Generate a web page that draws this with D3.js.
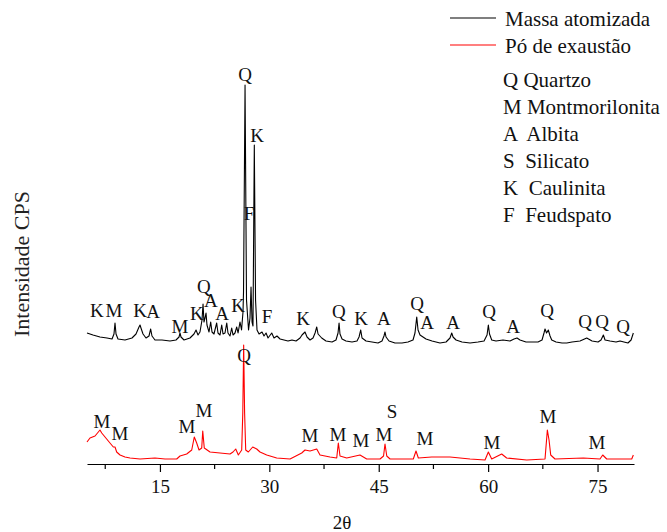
<!DOCTYPE html>
<html>
<head>
<meta charset="utf-8">
<script src="https://cdn.jsdelivr.net/npm/d3@7"></script>
</head>
<body style="margin:0;background:#fff">
<div class="container"></div>
<script>
// 2-theta positions (deg) and intensity (counts)
var blackTheta = [5.00, 5.82, 6.78, 7.74, 8.43, 8.70, 8.84, 8.98, 9.25, 10.21, 11.17, 11.72, 12.13, 12.27, 12.40, 12.68,
  13.09, 13.50, 13.73, 13.91, 14.32, 15.28, 16.38, 17.20, 17.62, 17.75, 17.89, 18.30, 19.12, 19.67, 19.95, 20.22,
  20.49, 20.77, 20.91, 21.04, 21.18, 21.32, 21.45, 21.73, 21.96, 22.14, 22.41, 22.78, 22.96, 23.24, 23.47, 23.65,
  23.92, 24.16, 24.33, 24.61, 24.84, 25.02, 25.29, 25.53, 25.71, 25.98, 26.19, 26.39, 26.46, 26.67, 26.87, 27.15,
  27.35, 27.49, 27.63, 27.76, 27.94, 28.11, 28.31, 28.59, 29.00, 29.27, 29.55, 29.82, 30.33, 30.64, 31.05, 31.47,
  32.01, 32.56, 33.11, 33.66, 34.21, 34.48, 34.89, 35.17, 35.58, 35.99, 36.27, 36.50, 36.68, 37.18, 37.77, 38.60,
  39.14, 39.42, 39.56, 39.69, 39.97, 40.51, 41.34, 42.02, 42.30, 42.53, 42.71, 43.26, 44.08, 44.90, 45.45, 45.72,
  45.86, 46.00, 46.41, 47.23, 48.19, 49.01, 49.70, 49.97, 50.21, 50.39, 50.66, 51.07, 51.48, 52.31, 53.40, 54.23,
  54.77, 55.01, 55.19, 55.60, 56.42, 57.52, 58.61, 59.44, 59.85, 60.03, 60.19, 60.49, 61.08, 62.04, 63.00, 63.55,
  63.96, 64.37, 65.19, 66.02, 66.84, 67.39, 67.66, 67.80, 68.01, 68.25, 68.49, 68.72, 69.31, 70.13, 70.78, 71.50,
  72.60, 73.52, 74.25, 75.07, 75.48, 75.80, 76.03, 76.71, 77.54, 78.09, 78.62, 79.17, 79.60, 79.91]
var blackCounts = [100, 80, 60, 50, 40, 90, 200, 90, 40, 30, 50, 90, 160, 180, 150, 90,
  50, 70, 140, 70, 30, 30, 20, 30, 60, 100, 60, 30, 50, 90, 130, 80,
  110, 230, 390, 210, 250, 300, 180, 110, 210, 110, 90, 200, 100, 80, 180, 90,
  100, 200, 100, 70, 150, 80, 100, 160, 100, 210, 130, 310, 510, 2580, 430, 130,
  250, 560, 210, 170, 1980, 430, 130, 90, 110, 70, 100, 50, 100, 50, 70, 40,
  30, 20, 30, 20, 50, 80, 110, 60, 30, 50, 100, 160, 90, 50, 20, 10,
  30, 100, 200, 90, 40, 20, 10, 20, 60, 130, 50, 20, 10, 0, 20, 70,
  110, 60, 20, 0, 0, 10, 30, 100, 260, 130, 80, 60, 40, 20, 0, 10,
  50, 100, 60, 30, 10, 0, 10, 20, 80, 180, 90, 30, 20, 30, 20, 40,
  50, 30, 10, 10, 10, 30, 100, 140, 100, 130, 70, 30, 10, 0, 0, 10,
  20, 50, 20, 10, 30, 80, 30, 20, 10, 20, 10, 0, 30, 100]

var redTheta = [5.00, 5.41, 6.10, 6.78, 7.02, 7.47, 8.15, 8.61, 8.84, 9.07, 9.53, 10.21, 10.90, 12.27, 14.32, 15.70,
  17.30, 17.75, 18.67, 19.36, 19.71, 20.04, 20.36, 20.73, 20.87, 21.08, 21.87, 23.24, 24.61, 25.02, 25.39, 25.75,
  26.21, 26.36, 26.48, 26.61, 26.76, 27.12, 27.72, 28.27, 28.72, 29.64, 31.01, 32.84, 34.44, 34.89, 35.58, 36.50,
  36.95, 38.32, 39.24, 39.46, 39.69, 40.61, 42.43, 43.35, 45.18, 45.66, 45.86, 46.10, 46.55, 49.74, 50.11, 50.43,
  52.26, 54.77, 57.52, 59.57, 60.03, 60.49, 61.86, 62.54, 65.29, 67.80, 68.12, 68.35, 68.58, 69.17, 73.05, 75.34,
  75.71, 76.26, 79.69, 79.91]
var redCounts = [210, 250, 270, 330, 300, 260, 200, 160, 160, 110, 80, 60, 50, 40, 50, 40,
  40, 70, 90, 130, 260, 200, 130, 150, 320, 150, 110, 100, 90, 110, 140, 80,
  130, 500, 1180, 500, 130, 110, 160, 140, 110, 80, 50, 40, 100, 130, 120, 140,
  80, 60, 50, 200, 70, 50, 80, 40, 40, 70, 190, 70, 40, 40, 120, 50,
  60, 60, 40, 30, 110, 40, 90, 50, 30, 40, 330, 230, 80, 40, 50, 40,
  80, 40, 40, 80]

// phase labels: letter, 2-theta, counts (black ones relative to its own baseline)
var blackLabels = [['K', 6.37, 260], ['M', 8.70, 260], ['K', 12.27, 260], ['A', 14.05, 250], ['M', 17.75, 100],
  ['K', 20.08, 230], ['Q', 21.04, 500], ['A', 22.00, 360], ['A', 23.51, 230], ['K', 25.71, 310],
  ['Q', 26.67, 2620], ['K', 28.31, 2010], ['F', 27.21, 1230], ['F', 29.68, 200], ['K', 34.62, 180],
  ['Q', 39.55, 250], ['K', 42.57, 180], ['A', 45.72, 180], ['Q', 50.25, 330], ['A', 51.62, 140],
  ['A', 55.19, 140], ['Q', 60.12, 250], ['A', 63.41, 100], ['Q', 68.08, 260], ['Q', 73.29, 150],
  ['Q', 75.62, 150], ['Q', 78.50, 100]]
var redLabels = [['M', 7.06, 350], ['M', 9.52, 230], ['M', 18.71, 300], ['M', 21.04, 460], ['Q', 26.53, 1010],
  ['M', 35.58, 210], ['M', 39.42, 220], ['M', 42.57, 160], ['M', 45.72, 220], ['S', 46.82, 450],
  ['M', 51.35, 180], ['M', 60.53, 140], ['M', 68.21, 400], ['M', 74.93, 140]]

var seriesNames = ['Massa atomizada', 'Pó de exaustão']
var phaseKey = ['Q Quartzo', 'M Montmorilonita', 'A  Albita', 'S  Silicato', 'K  Caulinita', 'F  Feudspato']
var majorTicks = [15, 30, 45, 60, 75]
var minorTicks = [7.5, 22.5, 37.5, 52.5, 67.5]
var blackOffset = 1200

var serif = "'Liberation Serif'"
var margin = { top: 43, right: 33, bottom: 69, left: 87 }
var width = 667 - margin.left - margin.right
var height = 532 - margin.top - margin.bottom

var svg = d3.select('.container')
            .append('svg')
            .attr('width', 667)
            .attr('height', 532)

var g = svg.append('g')
           .attr('transform', 'translate(' + margin.left + ',' + margin.top + ')')

var xScale = d3.scaleLinear().domain([5, 80]).range([0, width])
var yScale = d3.scaleLinear().domain([0, 4200]).range([height, 0])

var valueline = d3.line()
                  .x(function (d) { return xScale(d[0]) })
                  .y(function (d) { return yScale(d[1]) })

var black = d3.zip(blackTheta, blackCounts.map(function (c) { return c + blackOffset }))
var red = d3.zip(redTheta, redCounts)

function drawTrace (data, color) {
  g.append('path')
   .datum(data)
   .attr('fill', 'none')
   .attr('stroke', color)
   .attr('stroke-width', 1.1)
   .attr('stroke-linejoin', 'round')
   .attr('d', valueline)
}
drawTrace(black, '#000')
drawTrace(red, '#ff0000')

// peak letters
function drawLabels (labels, offset) {
  g.append('g')
   .selectAll('text')
   .data(labels)
   .enter()
   .append('text')
   .attr('x', function (d) { return xScale(d[1]) })
   .attr('y', function (d) { return yScale(d[2] + offset) })
   .attr('text-anchor', 'middle')
   .style('font-family', serif)
   .style('font-size', '19px')
   .style('fill', '#111')
   .text(function (d) { return d[0] })
}
drawLabels(blackLabels, blackOffset)
drawLabels(redLabels, 0)

// x axis with unlabelled minor ticks
var xg = g.append('g')
          .attr('transform', 'translate(0,' + (height + 1) + ')')
          .call(d3.axisBottom(xScale).tickValues(majorTicks).tickSize(8).tickSizeOuter(0).tickPadding(8))
xg.selectAll('.domain, .tick line').attr('stroke-width', 1.2)
xg.selectAll('.tick text')
  .style('font-family', serif)
  .style('font-size', '19px')
  .style('fill', '#111')
xg.selectAll('.minor')
  .data(minorTicks)
  .enter()
  .append('line')
  .attr('class', 'minor')
  .attr('x1', function (d) { return xScale(d) })
  .attr('x2', function (d) { return xScale(d) })
  .attr('y2', 5)
  .attr('stroke', '#000')
  .attr('stroke-width', 1.2)

svg.append('text')
   .attr('x', 342)
   .attr('y', 529)
   .attr('text-anchor', 'middle')
   .style('font-family', serif)
   .style('font-size', '19px')
   .style('fill', '#111')
   .text('2θ')

svg.append('text')
   .attr('transform', 'translate(29,264) rotate(-90)')
   .attr('text-anchor', 'middle')
   .style('font-family', serif)
   .style('font-size', '22px')
   .style('fill', '#222')
   .text('Intensidade CPS')

// legend
var legend = svg.append('g')
var legendColors = ['#000', '#ff0000']
seriesNames.forEach(function (name, i) {
  legend.append('line')
        .attr('x1', 450).attr('x2', 496)
        .attr('y1', 18 + i * 27).attr('y2', 18 + i * 27)
        .attr('stroke', legendColors[i])
        .attr('stroke-width', 1.1)
  legend.append('text')
        .attr('x', 505)
        .attr('y', 26 + i * 27)
        .style('font-family', serif)
        .style('font-size', '21px')
        .style('fill', '#111')
        .text(name)
})
phaseKey.forEach(function (s, i) {
  legend.append('text')
        .attr('x', 503)
        .attr('y', 87 + i * 27)
        .style('font-family', serif)
        .style('font-size', '21px')
        .style('fill', '#111')
        .style('white-space', 'pre')
        .text(s)
})
</script>
</body>
</html>
